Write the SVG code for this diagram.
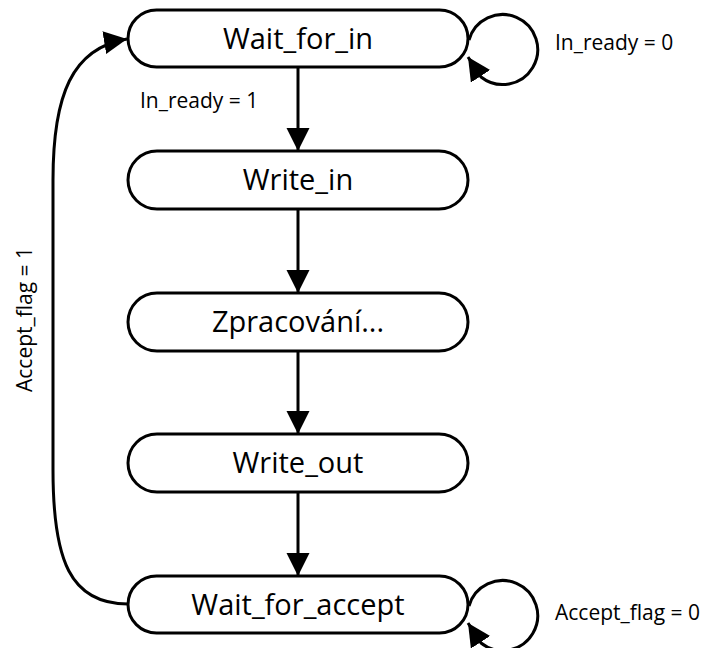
<svg xmlns="http://www.w3.org/2000/svg" width="706" height="648" viewBox="0 0 706 648">
  <style>
    .state { fill: #ffffff; stroke: #000000; stroke-width: 3; }
    .name { font-family: "Open Sans", "DejaVu Sans", sans-serif; font-size: 29px; fill: #000000; text-anchor: middle; }
    .cond { font-family: "Open Sans", "DejaVu Sans", sans-serif; font-size: 21px; fill: #000000; }
    .edge { fill: none; stroke: #000000; stroke-width: 3; }
  </style>
  <defs>
    <marker id="arrow" markerUnits="userSpaceOnUse" markerWidth="24" markerHeight="24" refX="23" refY="11.5" orient="auto">
      <path d="M0,0 L23,11.5 L0,23 Z" fill="#000000"/>
    </marker>
  </defs>

  <rect width="706" height="648" fill="#ffffff"/>

  <!-- transitions -->
  <g id="connectors">
    <path class="edge" d="M298,67 L298,151" marker-end="url(#arrow)"/>
    <path class="edge" d="M298,209 L298,293" marker-end="url(#arrow)"/>
    <path class="edge" d="M298,351 L298,434" marker-end="url(#arrow)"/>
    <path class="edge" d="M298,492 L298,576" marker-end="url(#arrow)"/>
    <!-- return from Wait_for_accept to Wait_for_in -->
    <path class="edge" d="M128,604 C70,604 53,560 53,470 L53,180 C53,95 72,48 127,39" marker-end="url(#arrow)"/>
    <!-- self loops -->
    <path class="edge" d="M469,40 A35,35 0 1 1 481,77 L468,57" marker-end="url(#arrow)"/>
    <path class="edge" d="M469,606 A35,35 0 1 1 481,643 L468,623" marker-end="url(#arrow)"/>
  </g>

  <g id="wait_for_in">
    <rect class="state" x="128" y="10" width="340" height="57" rx="28.5" ry="28.5"/>
    <text class="name" x="298" y="49">Wait_for_in</text>
  </g>
  <g id="write_in">
    <rect class="state" x="128" y="151" width="340" height="58" rx="29" ry="29"/>
    <text class="name" x="298" y="190">Write_in</text>
  </g>
  <g id="zpracovani">
    <rect class="state" x="128" y="293" width="340" height="58" rx="29" ry="29"/>
    <text class="name" x="298" y="332">Zpracování...</text>
  </g>
  <g id="write_out">
    <rect class="state" x="128" y="434" width="340" height="58" rx="29" ry="29"/>
    <text class="name" x="298" y="473">Write_out</text>
  </g>
  <g id="wait_for_accept">
    <rect class="state" x="128" y="576" width="340" height="57" rx="28.5" ry="28.5"/>
    <text class="name" x="298" y="615">Wait_for_accept</text>
  </g>

  <g id="labels">
    <text class="cond" x="140" y="108">In_ready = 1</text>
    <text class="cond" x="555" y="50">In_ready = 0</text>
    <text class="cond" x="555" y="620">Accept_flag = 0</text>
    <text class="cond" transform="translate(32,392) rotate(-90)">Accept_flag = 1</text>
  </g>
</svg>
